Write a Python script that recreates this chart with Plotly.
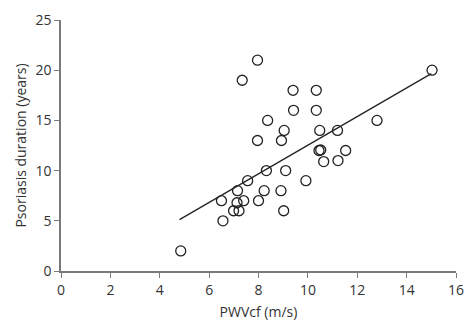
import plotly.graph_objects as go

pwv = [4.85, 6.56, 6.5, 6.99, 7.21, 7.13, 7.4, 7.15, 7.56, 7.34, 7.96, 7.96, 8.0, 8.23,
       8.32, 8.37, 8.91, 8.93, 9.04, 9.02, 9.1, 9.4, 9.42, 9.92, 10.34, 10.34, 10.48,
       10.45, 10.52, 10.64, 11.2, 11.22, 11.53, 12.8, 15.03]
duration = [2, 5, 7, 6, 6, 6.8, 7, 8, 9, 19, 21, 13, 7, 8,
            10, 15, 8, 13, 14, 6, 10, 18, 16, 9, 18, 16, 14,
            12, 12.05, 10.9, 14, 11, 12, 15, 20]

fit_x = [4.8, 15.0]
fit_y = [5.12, 19.66]

x_ticks = [0, 2, 4, 6, 8, 10, 12, 14, 16]
y_ticks = [0, 5, 10, 15, 20, 25]

fig = go.Figure()
fig.add_trace(go.Scatter(x=fit_x, y=fit_y, mode="lines",
                         line=dict(color="#222222", width=1.3), showlegend=False,
                         cliponaxis=False))
fig.add_trace(go.Scatter(x=pwv, y=duration, mode="markers",
                         marker=dict(symbol="circle-open", size=10, color="#222222",
                                     line=dict(width=1.3)),
                         showlegend=False, cliponaxis=False))

axis_common = dict(showgrid=False, zeroline=False, showline=True, linecolor="#7a7a7a",
                   linewidth=1.5, ticks="outside", ticklen=5, tickcolor="#7a7a7a",
                   tickwidth=1.3, ticklabeloverflow="allow",
                   tickfont=dict(family="Open Sans", size=14, color="#333333"))

fig.update_layout(
    width=476, height=328,
    margin=dict(l=61, r=20, t=10, b=57),
    plot_bgcolor="white", paper_bgcolor="white",
    xaxis=dict(range=[0, 16], tickvals=x_ticks,
               title=dict(text="PWVcf (m/s)", font=dict(family="Open Sans", size=14, color="#333333"),
                          standoff=10),
               **axis_common),
    yaxis=dict(range=[0, 25], tickvals=y_ticks,
               title=dict(text="Psoriasis duration (years)",
                          font=dict(family="Open Sans", size=14, color="#333333"), standoff=6),
               **axis_common),
)

fig.write_html("out.html")
